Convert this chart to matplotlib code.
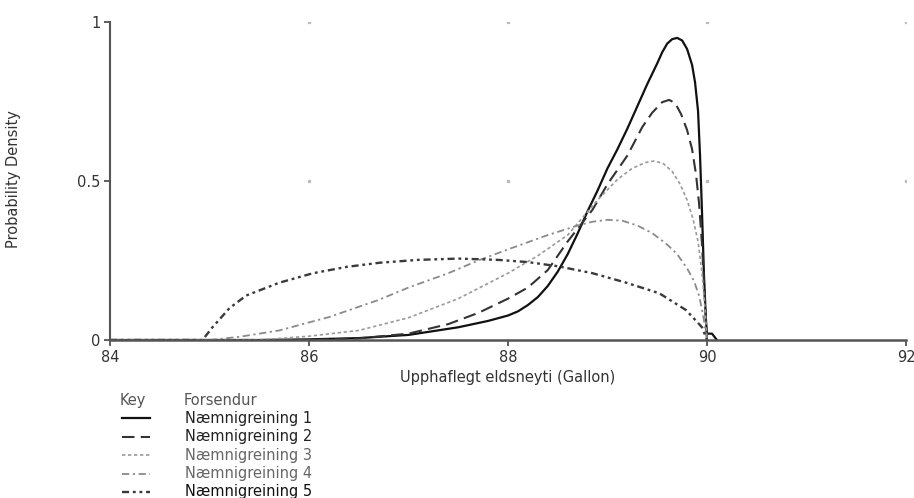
import matplotlib
matplotlib.use("Agg")
import matplotlib.pyplot as plt
from matplotlib.lines import Line2D

plt.rcParams['font.family'] = ['DejaVu Sans']

# ---------------- data ----------------
x1 = [84.0, 85.5, 86.0, 86.5, 87.0, 87.5, 87.8, 88.0, 88.1, 88.2, 88.3, 88.4, 88.5, 88.6,
      88.7, 88.8, 88.9, 89.0, 89.1, 89.2, 89.3, 89.4, 89.5, 89.55, 89.6, 89.65, 89.7, 89.75,
      89.8, 89.85, 89.88, 89.91, 89.93, 89.95, 89.97, 89.99, 90.0, 90.05, 90.1]
y1 = [0.0, 0.0, 0.002, 0.006, 0.016, 0.04, 0.06, 0.077, 0.09, 0.11, 0.135, 0.17, 0.215, 0.27,
      0.335, 0.405, 0.47, 0.54, 0.60, 0.665, 0.735, 0.805, 0.87, 0.905, 0.932, 0.946, 0.95, 0.942,
      0.915, 0.865, 0.81, 0.72, 0.58, 0.40, 0.20, 0.06, 0.02, 0.02, 0.0]

x2 = [84.0, 86.0, 86.5, 87.0, 87.4, 87.7, 88.0, 88.2, 88.4, 88.6, 88.85, 89.0, 89.2, 89.35,
      89.45, 89.55, 89.62, 89.68, 89.74, 89.8, 89.85, 89.89, 89.92, 89.95, 89.98, 90.0]
y2 = [0.0, 0.0, 0.005, 0.02, 0.05, 0.085, 0.13, 0.165, 0.22, 0.31, 0.41, 0.49, 0.58, 0.67,
      0.715, 0.748, 0.755, 0.745, 0.71, 0.66, 0.60, 0.52, 0.43, 0.30, 0.12, 0.0]

x3 = [84.0, 85.5, 86.0, 86.5, 87.0, 87.5, 88.0, 88.3, 88.6, 88.9, 89.1, 89.25, 89.38, 89.47,
      89.56, 89.65, 89.73, 89.8, 89.86, 89.91, 89.95, 89.98, 90.0]
y3 = [0.0, 0.0, 0.012, 0.03, 0.07, 0.13, 0.21, 0.265, 0.33, 0.44, 0.505, 0.54, 0.558, 0.563,
      0.555, 0.53, 0.49, 0.44, 0.38, 0.31, 0.21, 0.10, 0.0]

x4 = [84.0, 85.0, 85.3, 85.7, 86.2, 86.7, 87.0, 87.4, 87.7, 88.0, 88.4, 88.7, 88.85, 89.0,
      89.15, 89.3, 89.45, 89.6, 89.7, 89.8, 89.87, 89.92, 89.96, 90.0]
y4 = [0.0, 0.0, 0.01, 0.03, 0.072, 0.126, 0.165, 0.21, 0.25, 0.285, 0.33, 0.36, 0.372, 0.378,
      0.375, 0.36, 0.336, 0.30, 0.27, 0.225, 0.185, 0.14, 0.08, 0.0]

x5 = [84.0, 84.93, 85.03, 85.2, 85.37, 85.7, 86.04, 86.38, 86.71, 87.1, 87.5, 87.9, 88.2,
      88.5, 88.85, 89.19, 89.52, 89.79, 89.95, 90.0]
y5 = [0.0, 0.0, 0.04, 0.10, 0.14, 0.18, 0.21, 0.23, 0.243, 0.252, 0.256, 0.252, 0.245,
      0.232, 0.21, 0.18, 0.147, 0.094, 0.04, 0.0]

series_labels = ["Næmnigreining 1", "Næmnigreining 2", "Næmnigreining 3",
                 "Næmnigreining 4", "Næmnigreining 5"]
x_ticks = [84, 86, 88, 90, 92]
y_ticks = [0, 0.5, 1]
y_tick_labels = ["0", "0.5", "1"]
x_label = "Upphaflegt eldsneyti (Gallon)"
y_label = "Probability Density"
key_title = "Key"
key_header = "Forsendur"

# ---------------- styles ----------------
styles = [
    dict(color="#111111", lw=1.6, ls="-"),
    dict(color="#333333", lw=1.5, ls=(0, (6, 3))),
    dict(color="#9a9a9a", lw=1.2, ls=(0, (2, 1.6))),
    dict(color="#8a8a8a", lw=1.3, ls=(0, (4, 2, 1.2, 2))),
    dict(color="#3a3a3a", lw=1.7, ls=(0, (3, 1.6, 1.2, 1.6, 1.2, 1.6))),
]
text_colors = ["#222222", "#222222", "#666666", "#666666", "#111111"]

W, H = 914, 498
fig = plt.figure(figsize=(W / 100, H / 100), dpi=100)
ax = fig.add_axes([110 / W, 1 - 340 / H, (906 - 110) / W, (340 - 22) / H])

xs = [x1, x2, x3, x4, x5]
ys = [y1, y2, y3, y4, y5]
for xx, yy, st in zip(xs, ys, styles):
    ax.plot(xx, yy, color=st["color"], lw=st["lw"], linestyle=st["ls"],
            solid_joinstyle="round", dash_joinstyle="round")

# sparse dotted grid
gx = [v for v in x_ticks[1:]]
gy = [v for v in y_ticks[1:]]
for yv in gy:
    ax.plot(gx, [yv] * len(gx), linestyle="none", marker="s", markersize=1.4,
            color="#bbbbbb")

ax.set_xlim(x_ticks[0], x_ticks[-1])
ax.set_ylim(y_ticks[0], y_ticks[-1])
ax.set_xticks(x_ticks)
ax.set_xticklabels([str(v) for v in x_ticks])
ax.set_yticks(y_ticks)
ax.set_yticklabels(y_tick_labels)
ax.tick_params(axis="both", length=4, width=1.2, color="#444444",
               labelsize=10.5, labelcolor="#333333", pad=3)
for s in ["top", "right"]:
    ax.spines[s].set_visible(False)
ax.spines["left"].set_color("#555555")
ax.spines["left"].set_linewidth(1.5)
ax.spines["bottom"].set_color("#555555")
ax.spines["bottom"].set_linewidth(1.8)

ax.set_xlabel(x_label, fontsize=10.5, color="#333333", labelpad=4)
ax.set_ylabel(y_label, fontsize=10.5, color="#333333", labelpad=0)
ax.yaxis.set_label_coords(-(110 - 21) / (906 - 110), 1 - (179 - 22) / (340 - 22))

# ---------------- key ----------------
def fx(px):
    return px / W

def fy(py):
    return 1 - py / H

fig.text(fx(120), fy(400), key_title, fontsize=10.5, color="#555555", va="center", ha="left")
fig.text(fx(184), fy(400), key_header, fontsize=10.5, color="#555555", va="center", ha="left")
row_y = [418, 436.5, 455, 473.5, 491.5]
for lab, st, tc, ry in zip(series_labels, styles, text_colors, row_y):
    fig.add_artist(Line2D([fx(122), fx(150)], [fy(ry), fy(ry)], color=st["color"],
                          lw=st["lw"], linestyle=st["ls"]))
    fig.text(fx(185), fy(ry), lab, fontsize=10.5, color=tc, va="center", ha="left")

fig.savefig("out.png", dpi=100)
